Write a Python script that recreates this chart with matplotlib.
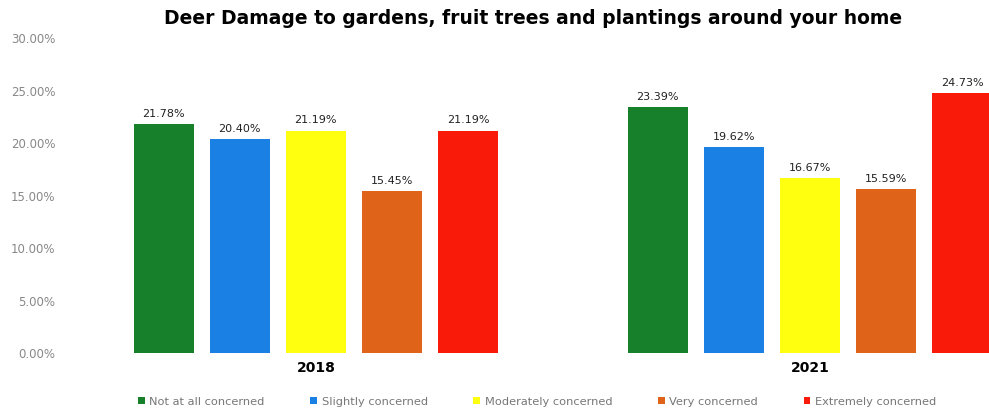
"""Deer damage concern chart."""
import matplotlib.pyplot as plt
import numpy as np

years = ["2018", "2021"]
levels = ["Not at all concerned", "Slightly concerned", "Moderately concerned",
          "Very concerned", "Extremely concerned"]
values_2018 = [21.78, 20.40, 21.19, 15.45, 21.19]
values_2021 = [23.39, 19.62, 16.67, 15.59, 24.73]
colors = ["#17802a", "#1b80e4", "#ffff10", "#e0631a", "#fa1a0a"]

fig = plt.figure(figsize=(9.89, 4.13), dpi=100)
ax = fig.add_axes([0.101, 0.145, 0.899, 0.763])

x = np.arange(len(years))
width = 0.121
step = 0.154
data = np.array([values_2018, values_2021])

for i, level in enumerate(levels):
    pos = x + (i - 2) * step
    bars = ax.bar(pos, data[:, i], width, color=colors[i], label=level)
    for b, v in zip(bars, data[:, i]):
        ax.text(b.get_x() + b.get_width() / 2, v + 0.5, f"{v:.2f}%",
                ha="center", va="bottom", fontsize=8, color="#222222")

ax.set_xlim(-0.437, 1.362)
ax.set_ylim(0, 30)
ax.set_yticks(np.arange(0, 31, 5))
ax.set_yticklabels([f"{t:.2f}%" for t in range(0, 31, 5)], fontsize=8.5,
                   color="#888888")
ax.set_xticks(x)
ax.set_xticklabels(years, fontsize=10, fontweight="bold")
ax.tick_params(length=0)
ax.tick_params(axis="y", pad=32)
ax.tick_params(axis="x", pad=6)
for s in ax.spines.values():
    s.set_visible(False)

fig.suptitle("Deer Damage to gardens, fruit trees and plantings around your home",
             fontsize=13.5, fontweight="bold", x=0.539, y=0.978)

leg = fig.legend(loc="lower center", bbox_to_anchor=(0.543, -0.01), ncol=5,
                 frameon=False, fontsize=8.2, handlelength=0.6, handleheight=0.6,
                 columnspacing=4.0, handletextpad=0.4)
for t in leg.get_texts():
    t.set_color("#777777")

fig.savefig("out.png", dpi=100)
